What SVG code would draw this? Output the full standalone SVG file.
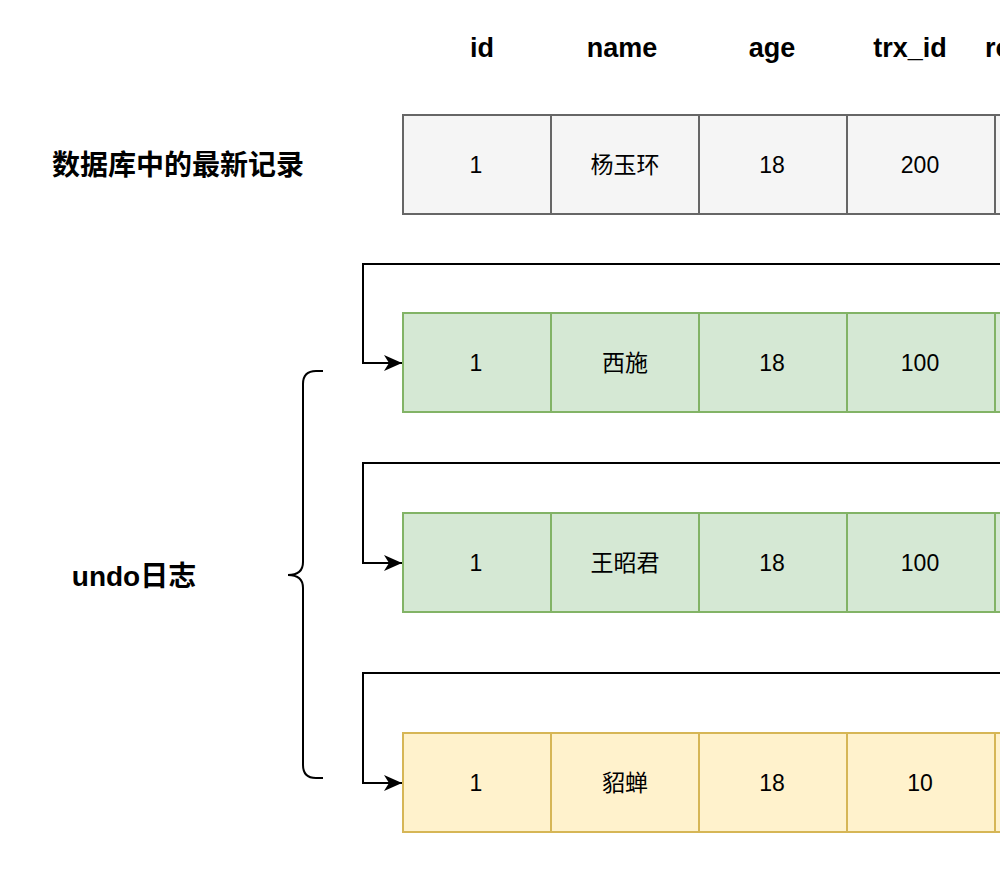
<svg xmlns="http://www.w3.org/2000/svg" width="1000" height="888" viewBox="0 0 1000 888">
<style>
.h{font-family:"Liberation Sans","Noto Sans CJK SC",Arial,sans-serif;font-weight:bold;font-size:27px;fill:#000;text-anchor:middle;dominant-baseline:central}
.l{font-size:28px}
.t{font-family:"Liberation Sans","Noto Sans CJK SC",Arial,sans-serif;font-size:23px;fill:#000;text-anchor:middle;dominant-baseline:central}
.g rect{fill:#f5f5f5;stroke:#666666;stroke-width:2}
.gr rect{fill:#d5e8d4;stroke:#82b366;stroke-width:2}
.y rect{fill:#fff2cc;stroke:#d6b656;stroke-width:2}
.c{fill:none;stroke:#000;stroke-width:2}
</style>
<defs>
<marker id="a" viewBox="0 0 18 16" refX="18" refY="8" markerWidth="18" markerHeight="16" markerUnits="userSpaceOnUse" orient="auto">
<path d="M0,0 L18,8 L0,16 L5,8 Z" fill="#000"/>
</marker>
</defs>
<rect width="1000" height="888" fill="#fff"/>
<g id="headers">
<text class="h" x="482" y="48">id</text>
<text class="h" x="622" y="48">name</text>
<text class="h" x="772" y="48">age</text>
<text class="h" x="910" y="48">trx_id</text>
<text class="h" x="985" y="48" style="text-anchor:start">roll_pointer</text>
</g>
<g id="label-latest"><text class="h l" x="178" y="165">数据库中的最新记录</text></g>
<g id="label-undo"><text class="h l" x="134" y="576">undo日志</text></g>
<g id="row-latest" class="g">
<rect x="403" y="115" width="148" height="99"/><text class="t" x="476" y="165">1</text>
<rect x="551" y="115" width="148" height="99"/><text class="t" x="625" y="165">杨玉环</text>
<rect x="699" y="115" width="148" height="99"/><text class="t" x="772" y="165">18</text>
<rect x="847" y="115" width="148" height="99"/><text class="t" x="920" y="165">200</text>
<rect x="995" y="115" width="148" height="99"/>
</g>
<g id="row-xishi" class="gr">
<rect x="403" y="313" width="148" height="99"/><text class="t" x="476" y="363">1</text>
<rect x="551" y="313" width="148" height="99"/><text class="t" x="625" y="363">西施</text>
<rect x="699" y="313" width="148" height="99"/><text class="t" x="772" y="363">18</text>
<rect x="847" y="313" width="148" height="99"/><text class="t" x="920" y="363">100</text>
<rect x="995" y="313" width="148" height="99"/>
</g>
<g id="row-wangzhaojun" class="gr">
<rect x="403" y="513" width="148" height="99"/><text class="t" x="476" y="563">1</text>
<rect x="551" y="513" width="148" height="99"/><text class="t" x="625" y="563">王昭君</text>
<rect x="699" y="513" width="148" height="99"/><text class="t" x="772" y="563">18</text>
<rect x="847" y="513" width="148" height="99"/><text class="t" x="920" y="563">100</text>
<rect x="995" y="513" width="148" height="99"/>
</g>
<g id="row-diaochan" class="y">
<rect x="403" y="733" width="148" height="99"/><text class="t" x="476" y="783">1</text>
<rect x="551" y="733" width="148" height="99"/><text class="t" x="625" y="783">貂蝉</text>
<rect x="699" y="733" width="148" height="99"/><text class="t" x="772" y="783">18</text>
<rect x="847" y="733" width="148" height="99"/><text class="t" x="920" y="783">10</text>
<rect x="995" y="733" width="148" height="99"/>
</g>
<g id="brace"><path class="c" d="M323,371 L316,371 Q303,371 303,384 L303,562 Q303,575 288,575 Q303,575 303,588 L303,765 Q303,778 316,778 L323,778"/></g>
<g id="connectors">
<path class="c" d="M1010,264 L363,264 L363,363 L402,363" marker-end="url(#a)"/>
<path class="c" d="M1010,463 L363,463 L363,563 L402,563" marker-end="url(#a)"/>
<path class="c" d="M1010,673 L363,673 L363,783 L402,783" marker-end="url(#a)"/>
</g>
</svg>
